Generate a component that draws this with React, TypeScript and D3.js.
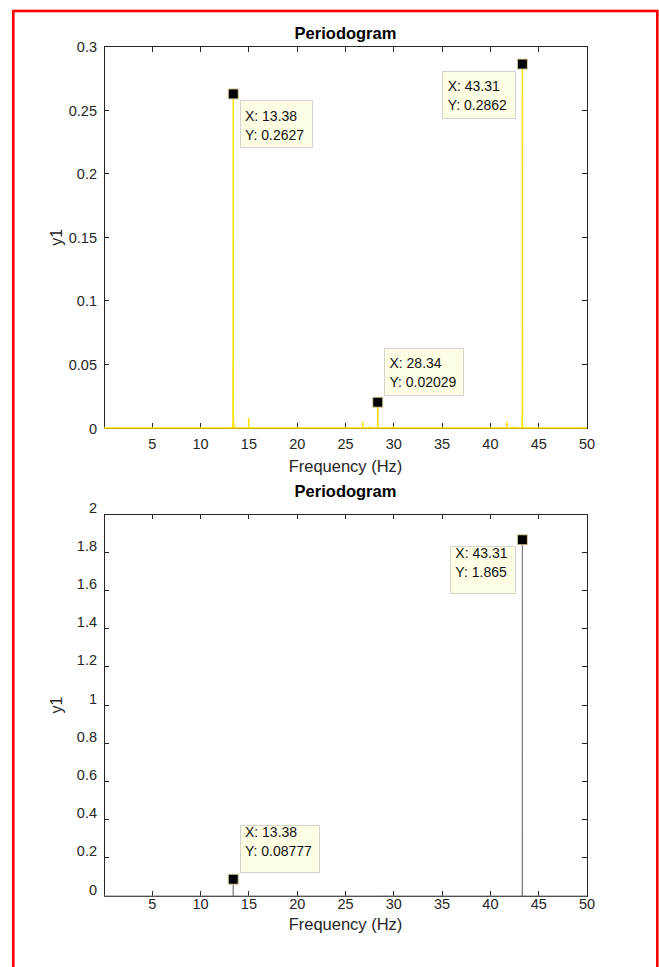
import React from 'react';
import * as d3 from 'd3';

// ---------- data ----------
const xTicks = [5, 10, 15, 20, 25, 30, 35, 40, 45, 50];
const xDomain = [0, 50];

const topYTicks = [0, 0.05, 0.1, 0.15, 0.2, 0.25, 0.3];
const topYTickLabels = ['0', '0.05', '0.1', '0.15', '0.2', '0.25', '0.3'];
const bottomYTicks = [0, 0.2, 0.4, 0.6, 0.8, 1, 1.2, 1.4, 1.6, 1.8, 2];
const bottomYTickLabels = ['0', '0.2', '0.4', '0.6', '0.8', '1', '1.2', '1.4', '1.6', '1.8', '2'];

// periodogram spectral lines (frequency Hz, power)
const topPeakFreqs = [1.55, 6.25, 7.6, 11.8, 13.2, 13.36, 13.38, 13.45, 14.98, 16.5, 22.2, 26.78, 27.5, 28.34, 29.1, 29.95, 34.4, 35.6, 40.9, 41.7, 42.5, 43.29, 43.31, 44.1, 49.1, 49.6];
const topPeakValues = [0.0008, 0.0004, 0.0004, 0.0006, 0.001, 0.052, 0.2627, 0.004, 0.0079, 0.0005, 0.0006, 0.005, 0.0012, 0.02029, 0.001, 0.0012, 0.0003, 0.0004, 0.0008, 0.005, 0.0012, 0.011, 0.2862, 0.001, 0.0006, 0.0008];

const bottomPeakFreqs = [13.38, 28.3, 29.0, 29.4, 43.29, 43.31];
const bottomPeakValues = [0.08777, 0.004, 0.003, 0.003, 0.02, 1.865];

// data tips
const topTipX = [13.38, 43.31, 28.34];
const topTipY = [0.2627, 0.2862, 0.02029];
const bottomTipX = [13.38, 43.31];
const bottomTipY = [0.08777, 1.865];

const titleText = 'Periodogram';
const xLabelText = 'Frequency (Hz)';
const yLabelText = 'y1';

// ---------- layout ----------
const FONT = '"Liberation Sans", Arial, Helvetica, sans-serif';
const AXIS_COLOR = '#262626';
const LEFT = 104;
const RIGHT = 587;

type TipLayout = { side: 'left' | 'right'; vert: 'above' | 'below'; w: number };

interface PanelProps {
  top: number;
  bottom: number;
  yMax: number;
  yTicks: number[];
  yTickLabels: string[];
  freqs: number[];
  values: number[];
  color: string;
  lineWidth: number;
  tipX: number[];
  tipY: number[];
  tipLayout: TipLayout[];
  titleY: number;
  xTickLabelY: number;
  xLabelY: number;
  yTickDy: number;
  tipTextDy: number;
}

const fmt = d3.format('.4~g');

function Panel(p: PanelProps) {
  const x = d3.scaleLinear().domain(xDomain).range([LEFT, RIGHT]);
  const y = d3.scaleLinear().domain([0, p.yMax]).range([p.bottom, p.top]);

  const foot = 0.008;
  const pts: [number, number][] = [[xDomain[0], 0]];
  p.freqs.forEach((f, i) => {
    pts.push([f - foot, 0]);
    pts.push([f, p.values[i]]);
    pts.push([f + foot, 0]);
  });
  pts.push([xDomain[1], 0]);
  const line = d3
    .line<[number, number]>()
    .x((d) => x(d[0]))
    .y((d) => y(d[1]));

  const tickLen = 5;
  const cx = (LEFT + RIGHT) / 2;
  const cy = (p.top + p.bottom) / 2;

  return (
    <g>
      {/* title */}
      <text x={cx} y={p.titleY} textAnchor="middle" dominantBaseline="central" fontFamily={FONT} fontWeight="bold" fontSize={16.5} fill="#000">
        {titleText}
      </text>
      {/* axes box */}
      <rect x={LEFT} y={p.top} width={RIGHT - LEFT} height={p.bottom - p.top} fill="#fff" stroke={AXIS_COLOR} strokeWidth={1} shapeRendering="crispEdges" />
      {/* x ticks */}
      {xTicks.map((t) => (
        <g key={'xt' + t}>
          <line x1={x(t)} x2={x(t)} y1={p.bottom} y2={p.bottom - tickLen} stroke={AXIS_COLOR} shapeRendering="crispEdges" />
          <line x1={x(t)} x2={x(t)} y1={p.top} y2={p.top + tickLen} stroke={AXIS_COLOR} shapeRendering="crispEdges" />
          <text x={x(t)} y={p.xTickLabelY} textAnchor="middle" dominantBaseline="central" fontFamily={FONT} fontSize={14.5} fill={AXIS_COLOR}>
            {t}
          </text>
        </g>
      ))}
      {/* y ticks */}
      {p.yTicks.map((t, i) => (
        <g key={'yt' + i}>
          <line x1={LEFT} x2={LEFT + tickLen} y1={y(t)} y2={y(t)} stroke={AXIS_COLOR} shapeRendering="crispEdges" />
          <line x1={RIGHT} x2={RIGHT - tickLen} y1={y(t)} y2={y(t)} stroke={AXIS_COLOR} shapeRendering="crispEdges" />
          <text x={97} y={y(t) + p.yTickDy} textAnchor="end" dominantBaseline="central" fontFamily={FONT} fontSize={14.5} fill={AXIS_COLOR}>
            {p.yTickLabels[i]}
          </text>
        </g>
      ))}
      {/* labels */}
      <text x={cx} y={p.xLabelY} textAnchor="middle" dominantBaseline="central" fontFamily={FONT} fontSize={16.5} fill={AXIS_COLOR}>
        {xLabelText}
      </text>
      <text transform={`translate(58,${cy}) rotate(-90)`} textAnchor="middle" dominantBaseline="middle" fontFamily={FONT} fontSize={16} fill={AXIS_COLOR}>
        {yLabelText}
      </text>
      {/* series */}
      <path d={line(pts) || ''} fill="none" stroke={p.color} strokeWidth={p.lineWidth} />
      {/* data tips */}
      {p.tipX.map((tx, i) => {
        const mx = x(tx);
        const my = y(p.tipY[i]);
        const L = p.tipLayout[i];
        const h = 47;
        const off = 7;
        const bx = L.side === 'right' ? mx + off : mx - off - L.w;
        const by = L.vert === 'below' ? my + off : my - off - h;
        return (
          <g key={'tip' + i}>
            <rect x={bx} y={by} width={L.w} height={h} fill="#FFFFE6" stroke="#D4D4CC" strokeWidth={1} shapeRendering="crispEdges" />
            <text x={bx + 4.7} y={by + 15 + p.tipTextDy} dominantBaseline="central" fontFamily={FONT} fontSize={14} fill="#111">
              {'X: ' + fmt(tx)}
            </text>
            <text x={bx + 4.7} y={by + 34 + p.tipTextDy} dominantBaseline="central" fontFamily={FONT} fontSize={14} fill="#111">
              {'Y: ' + fmt(p.tipY[i])}
            </text>
            <rect x={mx - 5} y={my - 5} width={10} height={10} fill="#000" stroke="#D8D0A0" strokeWidth={1} />
          </g>
        );
      })}
    </g>
  );
}

export default function App() {
  return (
    <svg width={659} height={967} style={{ position: 'absolute', left: 0, top: 0, background: '#fff' }}>
      <rect x={0} y={0} width={659} height={967} fill="#fff" />
      <Panel
        top={46.5}
        bottom={428}
        yMax={0.3}
        yTicks={topYTicks}
        yTickLabels={topYTickLabels}
        freqs={topPeakFreqs}
        values={topPeakValues}
        color="#FFE100"
        lineWidth={1.5}
        tipX={topTipX}
        tipY={topTipY}
        tipLayout={[
          { side: 'right', vert: 'below', w: 72 },
          { side: 'left', vert: 'below', w: 72.4 },
          { side: 'right', vert: 'above', w: 79 },
        ]}
        titleY={33}
        xTickLabelY={444}
        xLabelY={466}
        yTickDy={0.5}
        tipTextDy={0}
      />
      <Panel
        top={514}
        bottom={896}
        yMax={2}
        yTicks={bottomYTicks}
        yTickLabels={bottomYTickLabels}
        freqs={bottomPeakFreqs}
        values={bottomPeakValues}
        color="#7F7F7F"
        lineWidth={1.2}
        tipX={bottomTipX}
        tipY={bottomTipY}
        tipLayout={[
          { side: 'right', vert: 'above', w: 79.3 },
          { side: 'left', vert: 'below', w: 64.7 },
        ]}
        titleY={491}
        xTickLabelY={904}
        xLabelY={924}
        yTickDy={-6.5}
        tipTextDy={-8.4}
      />
      {/* red frame */}
      <rect x={13.3} y={11} width={644} height={1000} fill="none" stroke="#FF0000" strokeWidth={2.6} />
    </svg>
  );
}
